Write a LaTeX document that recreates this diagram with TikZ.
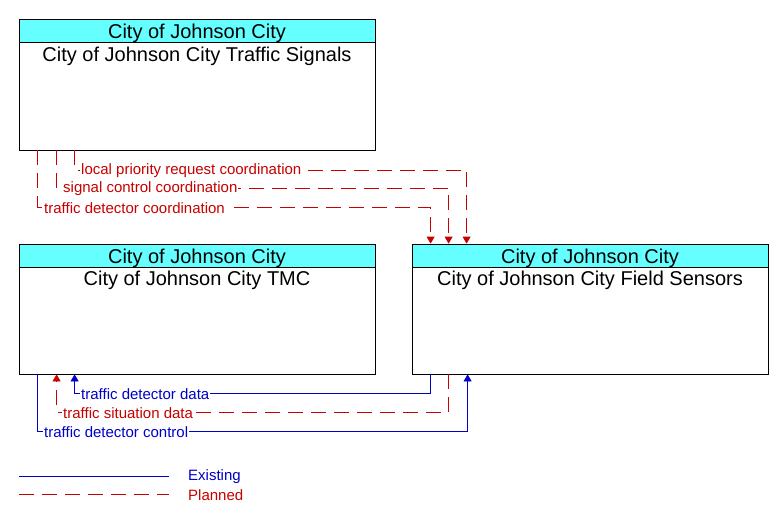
\documentclass[tikz,border=0pt]{standalone}
\usepackage{fontspec}
\setmainfont{Liberation Sans}
\usetikzlibrary{arrows.meta,calc}
\definecolor{hdr}{RGB}{102,255,255}
\definecolor{pl}{RGB}{200,0,0}
\definecolor{ex}{RGB}{0,0,200}
\tikzset{
  box/.style={draw=black,line width=0.8pt,minimum width=356pt,inner sep=0pt,fill=white},
  hdrbox/.style={draw=black,line width=0.8pt,fill=hdr,minimum width=356pt,minimum height=23pt,inner sep=0pt},
  nm/.style={font=\fontsize{20}{22}\selectfont,inner sep=0pt},
  planned/.style={draw=pl,line width=0.8pt,dash pattern=on 15pt off 8pt},
  existing/.style={draw=ex,line width=0.8pt},
  tip/.style={-{Triangle[width=8pt,length=7pt]}},
  lbl/.style={anchor=west,fill=white,inner sep=1pt,font=\fontsize{15}{17}\selectfont},
}
\begin{document}
\begin{tikzpicture}[x=1pt,y=-1pt]
\useasboundingbox (0,0) rectangle (783,523);
% boxes
\node[box,minimum height=131pt] (ts) at (197,84.5) {};
\node[hdrbox] (tsh) at (197,30.5) {};
\node[nm] (tst) at (197,33) {City of Johnson City};
\node[nm] (tsn) at (197,56) {City of Johnson City Traffic Signals};

\node[box,minimum height=130pt] (tmc) at (197,309) {};
\node[hdrbox] (tmch) at (197,255.5) {};
\node[nm] (tmct) at (197,258) {City of Johnson City};
\node[nm] (tmcn) at (197,280) {City of Johnson City TMC};

\node[box,minimum height=130pt] (fs) at (590,309) {};
\node[hdrbox] (fsh) at (590,255.5) {};
\node[nm] (fst) at (590,258) {City of Johnson City};
\node[nm] (fsn) at (590,280) {City of Johnson City Field Sensors};

% top flows
\draw[planned,tip] ($(ts.south west)+(56,0)$) -- ++(0,20) -| ($(fs.north west)+(55,0)$);
\draw[planned,tip] ($(ts.south west)+(38,0)$) -- ++(0,38) -| ($(fs.north west)+(37,0)$);
\draw[planned,tip] ($(ts.south west)+(19,0)$) -- ++(0,57) -| ($(fs.north west)+(19,0)$);
\node[lbl,text=pl] (l1) at (80,171) {local priority request coordination};
\node[lbl,text=pl] (l2) at (62,189) {signal control coordination};
\node[lbl,text=pl] (l3) at (43,208) {traffic detector coordination};

% bottom flows
\draw[existing,tip] ($(fs.south west)+(19,0)$) -- ++(0,19) -| ($(tmc.south west)+(56,0)$);
\draw[planned,tip] ($(fs.south west)+(37,0)$) -- ++(0,38) -| ($(tmc.south west)+(38,0)$);
\draw[existing,tip] ($(tmc.south west)+(19,0)$) -- ++(0,57) -| ($(fs.south west)+(56,0)$);
\node[lbl,text=ex] (l4) at (80,394) {traffic detector data};
\node[lbl,text=pl] (l5) at (62,413) {traffic situation data};
\node[lbl,text=ex] (l6) at (43,432) {traffic detector control};

% legend
\coordinate (e1) at (19,476);
\coordinate (e2) at (169,476);
\coordinate (p1) at (19,494);
\coordinate (p2) at (169,494);
\draw[existing] (e1) -- (e2);
\draw[planned] (p1) -- (p2);
\node[anchor=west,inner sep=0pt,text=ex,font=\fontsize{15}{17}\selectfont] (le) at (188,477) {Existing};
\node[anchor=west,inner sep=0pt,text=pl,font=\fontsize{15}{17}\selectfont] (lp) at (188,495) {Planned};
\end{tikzpicture}
\end{document}
